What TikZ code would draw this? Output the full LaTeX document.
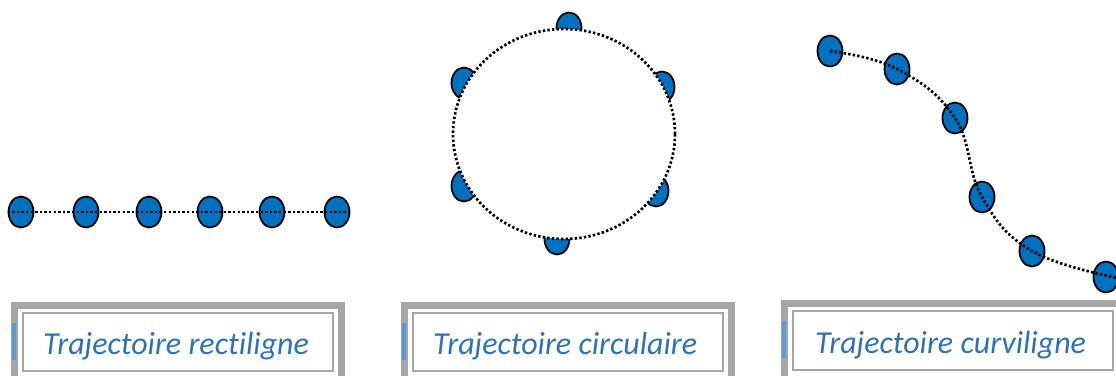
\documentclass[tikz,border=0pt]{standalone}
\usepackage{fontspec}
\setmainfont{Carlito}[Ligatures=CommonOff]
\usetikzlibrary{shapes.geometric}
\definecolor{ballblue}{HTML}{0070C0}
\definecolor{txtblue}{HTML}{2E74B5}
\definecolor{framegray}{HTML}{A6A6A6}
\definecolor{tabblue}{HTML}{5B9BD5}
\tikzset{
  ball/.style={ellipse, draw=black, line width=1.8pt, fill=ballblue, minimum width=25pt, minimum height=31pt, inner sep=0pt},
  traj/.style={line width=2.7pt, dash pattern=on 2.4pt off 2.2pt},
  lbl/.style={text=txtblue, font=\itshape\fontsize{32pt}{35pt}\selectfont, inner sep=0pt, anchor=base west},
  outerframe/.style={draw=framegray, line width=7pt},
  innerframe/.style={draw=framegray, line width=2pt},
  tab/.style={fill=tabblue, draw=none},
}
\begin{document}
\begin{tikzpicture}[x=1pt,y=-1pt]
\useasboundingbox (0,0) rectangle (1116,375);
\clip (0,0) rectangle (1116,375);
% straight line
\foreach \n/\x in {1/21,2/86,3/149,4/210,5/272,6/337}{
  \node[ball] (l\n) at (\x,212) {};
}
\draw[traj] (l1.west) -- (l6.east);
% circle
\node[ball] (c1) at (569,28) {};
\node[ball] (c2) at (662,87) {};
\node[ball] (c3) at (656,191) {};
\node[ball] (c4) at (557,239) {};
\node[ball] (c5) at (464,186) {};
\node[ball] (c6) at (464,83) {};
\node[ellipse, fill=white, draw=black, traj, minimum width=222pt, minimum height=210pt, inner sep=0pt] (circ) at (564,134) {};
% curve
\node[ball] (k1) at (830,51) {};
\node[ball] (k2) at (897,69) {};
\node[ball] (k3) at (955,118) {};
\node[ball] (k4) at (982,197) {};
\node[ball] (k5) at (1032,251) {};
\node[ball] (k6) at (1106,277) {};
\draw[traj] plot[smooth, tension=0.7] coordinates {(k1.center) (k2.center) (k3.center) (k4.center) (k5.center) (1118,278)};
% boxes
\draw[outerframe] (14.5,380) -- (14.5,305.5) -- (341.5,305.5) -- (341.5,380);
\draw[innerframe] (23,313) rectangle (333,371);
\fill[tab] (12,323) rectangle (15.5,360);
\node[lbl] (t1) at (43,354) {Trajectoire rectiligne};
\draw[outerframe] (404.5,380) -- (404.5,305.5) -- (731.5,305.5) -- (731.5,380);
\draw[innerframe] (413,313) rectangle (723,371);
\fill[tab] (402,323) rectangle (405.5,360);
\node[lbl] (t2) at (433,354) {Trajectoire circulaire};
\draw[outerframe] (784.5,380) -- (784.5,303.5) -- (1125,303.5);
\draw[innerframe] (793,311) rectangle (1113,370);
\fill[tab] (782,321) rectangle (785.5,358);
\node[lbl] (t3) at (815,353) {Trajectoire curviligne};
\end{tikzpicture}
\end{document}
